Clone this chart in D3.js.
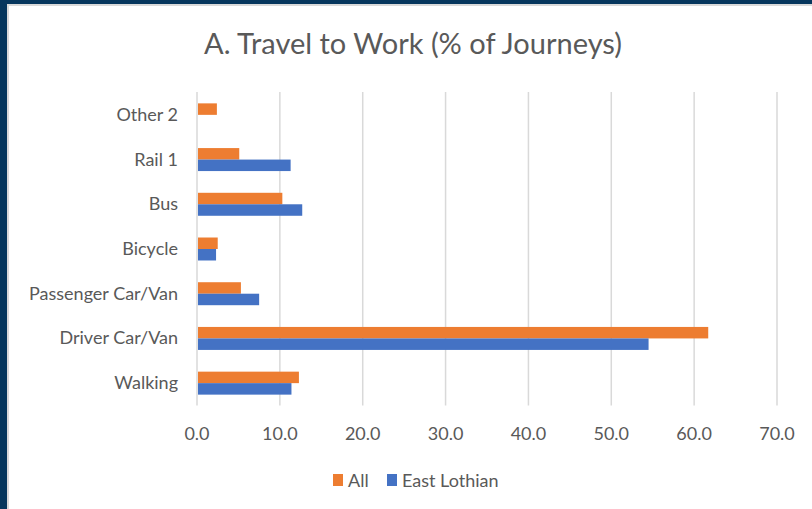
<!DOCTYPE html>
<html><head><meta charset="utf-8">
<script src="https://cdn.jsdelivr.net/npm/d3@7"></script>
<style>
html,body{margin:0;padding:0;background:#fff;}
svg{display:block;}
text{font-family:"Lato","Open Sans",sans-serif;fill:#595959;}
</style></head>
<body>
<script>
const categories = ["Other 2","Rail 1","Bus","Bicycle","Passenger Car/Van","Driver Car/Van","Walking"];
const seriesNames = ["All","East Lothian"];
const allValues = [2.4, 5.1, 10.3, 2.5, 5.3, 61.7, 12.3];
const eastLothianValues = [null, 11.3, 12.7, 2.3, 7.5, 54.5, 11.4];
const tickValues = [0,10,20,30,40,50,60,70];
const colors = ["#ED7D31","#4472C4"];

const W = 812, H = 509;
const svg = d3.select("body").append("svg").attr("width", W).attr("height", H);

// frame
svg.append("rect").attr("x",0).attr("y",0).attr("width",W).attr("height",H).attr("fill","#06365d");
svg.append("rect").attr("x",7).attr("y",4).attr("width",W-7).attr("height",H-4).attr("fill","#d9d9d9");
svg.append("rect").attr("x",9).attr("y",6).attr("width",W-9).attr("height",H-6).attr("fill","#ffffff");

const x = d3.scaleLinear().domain([0,70]).range([197,777]);
const y = d3.scaleBand().domain(categories).range([92.5,405.5]).paddingInner(0.486).paddingOuter(0.243);
const sub = d3.scaleBand().domain(seriesNames).range([0, y.bandwidth()]);

// gridlines
svg.append("g").selectAll("line").data(tickValues).join("line")
  .attr("x1", d=>x(d)).attr("x2", d=>x(d))
  .attr("y1", 92).attr("y2", 405.5)
  .attr("stroke","#d9d9d9").attr("stroke-width",1.5);

const rows = categories.map((c,i)=>({c, vals:[allValues[i], eastLothianValues[i]]}));
const g = svg.append("g");
rows.forEach(r=>{
  r.vals.forEach((v,j)=>{
    if (v==null) return;
    g.append("rect")
      .attr("x", x(0)+1)
      .attr("y", y(r.c)+sub(seriesNames[j]))
      .attr("width", x(v)-x(0)-1)
      .attr("height", sub.bandwidth())
      .attr("fill", colors[j]);
  });
});

// category labels
svg.append("g").selectAll("text").data(categories).join("text")
  .attr("x", 178).attr("y", d=>y(d)+y.bandwidth()/2+6)
  .attr("text-anchor","end")
  .attr("font-size",18).text(d=>d);

// tick labels
svg.append("g").selectAll("text").data(tickValues).join("text")
  .attr("x", d=>x(d)).attr("y", 439.5)
  .attr("text-anchor","middle")
  .attr("font-size",18).text(d=>d3.format(".1f")(d));

// title
svg.append("text").attr("x",413).attr("y",53.5)
  .attr("text-anchor","middle")
  .attr("font-size",29).text("A. Travel to Work (% of Journeys)");

// legend
const leg = svg.append("g");
const legX = [333, 387];
seriesNames.forEach((s,i)=>{
  leg.append("rect").attr("x",legX[i]).attr("y",474).attr("width",10).attr("height",12).attr("fill",colors[i]);
  leg.append("text").attr("x",legX[i]+15).attr("y",486.5)
    .attr("font-size",18).text(s);
});
</script>
</body></html>
